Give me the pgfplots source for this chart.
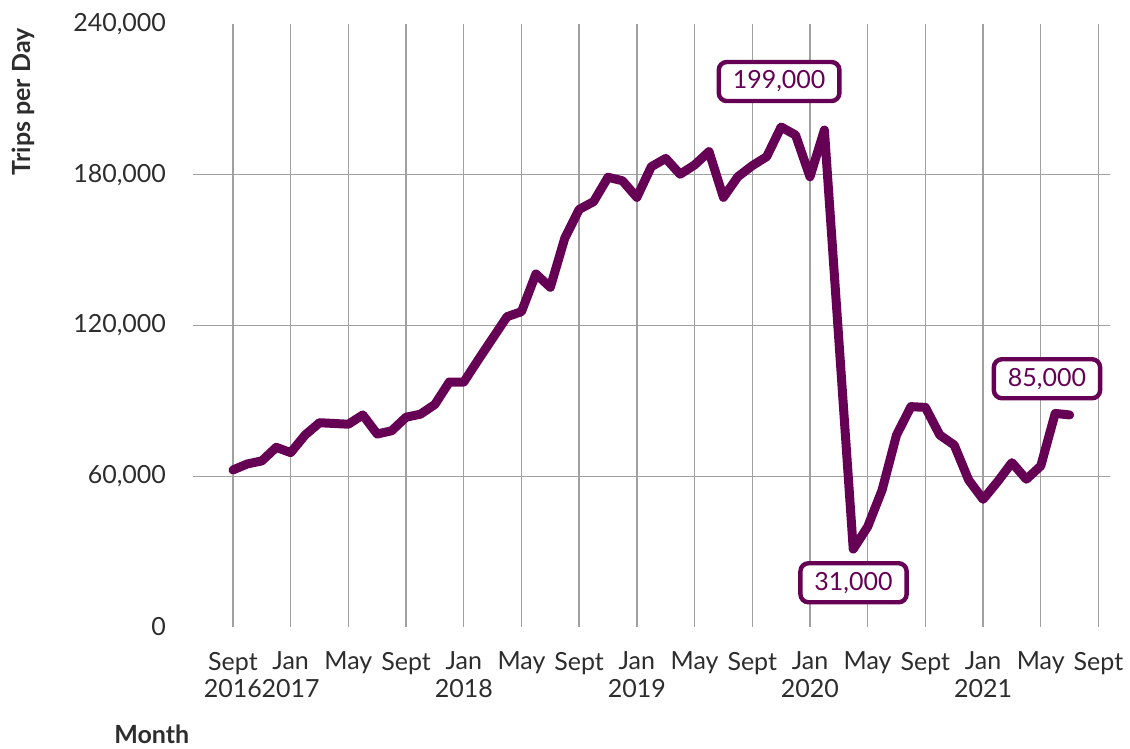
\documentclass[border=0pt]{standalone}
\usepackage{pgfplots}
\pgfplotsset{compat=1.18}
\usepackage{fontspec}
\setmainfont{Lato}
\definecolor{plum}{RGB}{101,0,84}
\definecolor{ink}{RGB}{45,45,45}
\definecolor{rule}{RGB}{160,160,160}

% monthly averages, month 0 = Sept 2016
\pgfplotstableread{
m  trips
0  62500
1  64900
2  66100
3  71500
4  69400
5  76400
6  81300
7  81000
8  80700
9  84400
10 76800
11 78100
12 83500
13 84700
14 88600
15 97500
16 97500
17 106300
18 114900
19 123500
20 125500
21 140500
22 135200
23 154700
24 166200
25 169300
26 179000
27 177600
28 171000
29 183200
30 186500
31 180200
32 183900
33 189200
34 171000
35 179200
36 183600
37 187200
38 199000
39 195800
40 179200
41 197800
42 114400
43 31000
44 39900
45 54500
46 76400
47 87700
48 87400
49 76400
50 72400
51 58500
52 50800
53 57800
54 65400
55 58800
56 64100
57 85000
58 84400
}\trips

\begin{document}
\begin{tikzpicture}[
  lbl/.style={draw=plum, line width=2.2pt, rounded corners=4pt, fill=white,
    text=plum, inner xsep=7pt, inner ysep=4pt, minimum height=19.5pt,
    font=\fontsize{12.5}{14}\selectfont}]
\begin{axis}[
  scale only axis, width=458.5pt, height=301.5pt,
  xmin=-2.77, xmax=60.8, ymin=0, ymax=240000,
  clip=false,
  axis line style={draw=none}, major tick length=0pt,
  xtick={0,4,...,60},
  xticklabels={{Sept\\2016},{Jan\\2017},May,Sept,{Jan\\2018},May,Sept,{Jan\\2019},May,Sept,{Jan\\2020},May,Sept,{Jan\\2021},May,Sept},
  xticklabel style={align=center, anchor=north, yshift=-9pt,
    font=\fontsize{12.5}{13.8}\selectfont, text=ink},
  xmajorgrids, ymajorgrids,
  grid style={rule, line width=0.7pt},
  ytick={60000,120000,180000},
  extra y ticks={0,240000},
  extra y tick style={grid=none},
  scaled y ticks=false,
  yticklabel={\pgfmathprintnumber[fixed,precision=0,1000 sep={,}]{\tick}},
  yticklabel style={xshift=-10pt, font=\fontsize{12.5}{14}\selectfont, text=ink},
  /pgf/number format/assume math mode=true,
]
\addplot[plum, line width=4.5pt, line join=round, line cap=round] table[x=m, y=trips] {\trips};

\node[lbl] at (axis cs:37.86,217100) {199,000};
\node[lbl] at (axis cs:43.02,17600) {31,000};
\node[lbl] at (axis cs:56.43,98800) {85,000};

\node[rotate=90, text=ink, font=\bfseries\fontsize{12.5}{14}\selectfont]
  at (axis description cs:-0.185,0.871) {Trips per Day};
\node[text=ink, font=\bfseries\fontsize{12.5}{14}\selectfont]
  at (axis description cs:-0.045,-0.178) {Month};

\coordinate (bl) at (axis description cs:-0.2105,-0.2023);
\coordinate (tr) at (axis description cs:1.0218,1.0398);
\end{axis}
\pgfresetboundingbox
\path[use as bounding box] (bl) rectangle (tr);
\end{tikzpicture}
\end{document}
